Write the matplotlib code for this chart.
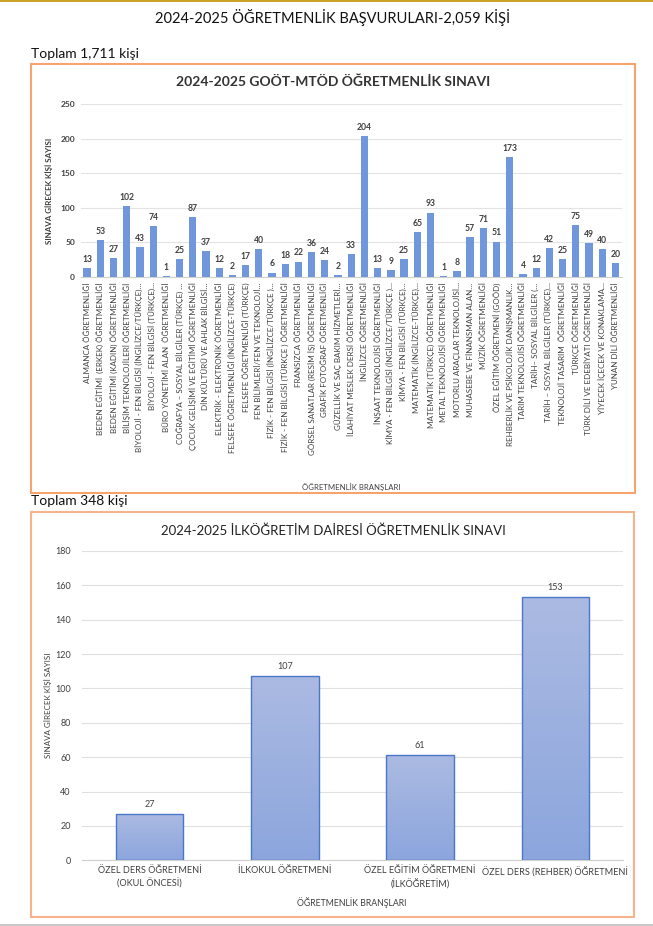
import numpy as np
import matplotlib
matplotlib.use('agg')
import matplotlib.pyplot as plt
from matplotlib.patches import Rectangle

plt.rcParams['font.family'] = ['Lato', 'DejaVu Sans']

# --- data ---
page_title = '2024-2025 ÖĞRETMENLİK BAŞVURULARI-2,059 KİŞİ'
top_total = 'Toplam 1,711 kişi'
top_title = '2024-2025 GOÖT-MTÖD ÖĞRETMENLİK SINAVI'
top_branches = [
    'ALMANCA ÖĞRETMENLİĞİ',
    'BEDEN EĞİTİMİ  (ERKEK) ÖĞRETMENLİĞİ',
    'BEDEN EĞİTİMİ (KADIN) ÖĞRETMENLİĞİ',
    'BİLİŞİM TEKNOLOJİLERİ ÖĞRETMENLİĞİ',
    'BİYOLOJİ - FEN BİLGİSİ (İNGİLİZCE/TÜRKÇE)…',
    'BİYOLOJİ - FEN BİLGİSİ (TÜRKÇE)…',
    'BÜRO YÖNETİMİ ALAN  ÖĞRETMENLİĞİ',
    'COĞRAFYA – SOSYAL BİLGİLER (TÜRKÇE) …',
    'ÇOCUK GELİŞİMİ VE EĞİTİMİ ÖĞRETMENLİĞİ',
    'DİN KÜLTÜRÜ VE AHLAK BİLGİSİ…',
    'ELEKTRİK - ELEKTRONİK ÖĞRETMENLİĞİ',
    'FELSEFE ÖĞRETMENLİĞİ (İNGİLİZCE-TÜRKÇE)',
    'FELSEFE ÖĞRETMENLİĞİ (TÜRKÇE)',
    'FEN BİLİMLERİ/FEN VE TEKNOLOJİ…',
    'FİZİK - FEN BİLGİSİ (İNGİLİZCE/TÜRKÇE )…',
    'FİZİK - FEN BİLGİSİ (TÜRKÇE ) ÖĞRETMENLİĞİ',
    'FRANSIZCA ÖĞRETMENLİĞİ',
    'GÖRSEL SANATLAR (RESİM İŞ) ÖĞRETMENLİĞİ',
    'GRAFİK FOTOĞRAF ÖĞRETMENLİĞİ',
    'GÜZELLİK VE SAÇ BAKIM HİZMETLERİ…',
    'İLAHİYAT MESLEK DERSİ ÖĞRETMENLİĞİ',
    'İNGİLİZCE ÖĞRETMENLİĞİ',
    'İNŞAAT TEKNOLOJİSİ ÖĞRETMENLİĞİ',
    'KİMYA - FEN BİLGİSİ (İNGİLİZCE/TÜRKÇE )…',
    'KİMYA - FEN BİLGİSİ (TÜRKÇE)…',
    'MATEMATİK (İNGİLİZCE-TÜRKÇE)…',
    'MATEMATİK (TÜRKÇE) ÖĞRETMENLİĞİ',
    'METAL TEKNOLOJİSİ ÖĞRETMENLİĞİ',
    'MOTORLU ARAÇLAR TEKNOLOJİSİ…',
    'MUHASEBE VE FİNANSMAN ALAN…',
    'MÜZİK ÖĞRETMENLİĞİ',
    'ÖZEL EĞİTİM ÖĞRETMENİ (GOÖD)',
    'REHBERLİK VE PSİKOLOJİK DANIŞMANLIK…',
    'TARIM TEKNOLOJİSİ ÖĞRETMENLİĞİ',
    'TARİH– SOSYAL BİLGİLER (…',
    'TARİH – SOSYAL BİLGİLER (TÜRKÇE)…',
    'TEKNOLOJİ TASARIM  ÖĞRETMENLİĞİ',
    'TÜRKÇE ÖĞRETMENLİĞİ',
    'TÜRK DİLİ VE EDEBİYATI ÖĞRETMENLİĞİ',
    'YİYECEK İÇECEK VE KONAKLAMA…',
    'YUNAN DİLİ ÖĞRETMENLİĞİ',
]
top_counts = [13, 53, 27, 102, 43, 74, 1, 25, 87, 37, 12, 2, 17, 40, 6, 18,
              22, 36, 24, 2, 33, 204, 13, 9, 25, 65, 93, 1, 8, 57, 71, 51,
              173, 4, 12, 42, 25, 75, 49, 40, 20]
top_yticks = [0, 50, 100, 150, 200, 250]

bottom_total = 'Toplam 348 kişi'
bottom_title = '2024-2025 İLKÖĞRETİM DAİRESİ ÖĞRETMENLİK SINAVI'
bottom_branches = ['ÖZEL DERS ÖĞRETMENİ\n(OKUL ÖNCESİ)', 'İLKOKUL ÖĞRETMENİ',
                   'ÖZEL EĞİTİM ÖĞRETMENİ\n(İLKÖĞRETİM)',
                   'ÖZEL DERS (REHBER) ÖĞRETMENİ']
bottom_counts = [27, 107, 61, 153]
bottom_yticks = [0, 20, 40, 60, 80, 100, 120, 140, 160, 180]

ylabel = 'SINAVA GİRECEK KİŞİ SAYISI'
xlabel = 'ÖĞRETMENLİK BRANŞLARI'

W, H = 653, 926
fig = plt.figure(figsize=(W / 100, H / 100), dpi=100)


def px_axes(x0, y0, x1, y1, **kw):
    # pixel box (top-left origin) -> figure axes
    return fig.add_axes([x0 / W, 1 - y1 / H, (x1 - x0) / W, (y1 - y0) / H], **kw)


# page background layer for frames and free text
bg = px_axes(0, 0, W, H)
bg.set_xlim(0, W)
bg.set_ylim(H, 0)
bg.axis('off')
bg.add_patch(Rectangle((0, 0), W, 1.5, color='#C9A227', lw=0))
bg.add_patch(Rectangle((0, H - 2), W, 2, color='#C8C8C8', lw=0))
bg.add_patch(Rectangle((30.5, 64), 604, 429, fill=False, ec='#F4A46C', lw=1.5))
bg.add_patch(Rectangle((31, 512), 603, 405, fill=False, ec='#F7B48C', lw=1.5))
bg.text(333, 17, page_title, ha='center', va='center', fontsize=10.5, color='#111111')
bg.text(31, 54, top_total, ha='left', va='center', fontsize=10, color='#111111')
bg.text(31, 501, bottom_total, ha='left', va='center', fontsize=10, color='#111111')
bg.text(333, 82, top_title, ha='center', va='center', fontsize=10, fontweight='bold', color='#333333')
bg.text(333, 531, bottom_title, ha='center', va='center', fontsize=9.5, color='#222222')

# --- top chart ---
ax1 = px_axes(80.5, 104.3, 622, 276.7)
x1 = np.arange(len(top_counts))
ax1.bar(x1, top_counts, width=0.55, color='#7097DB', zorder=3)
for xi, v in zip(x1, top_counts):
    ax1.text(xi, v + 6, str(v), ha='center', va='bottom', fontsize=6.2,
             fontweight='bold', color='#404040')
ax1.set_xlim(-0.5, len(top_counts) - 0.5)
ax1.set_ylim(0, 250)
ax1.set_yticks(top_yticks)
ax1.set_yticklabels([str(t) for t in top_yticks], fontsize=6, fontweight='bold', color='#404040')
ax1.set_xticks(x1)
ax1.set_xticklabels(top_branches, rotation=90, fontsize=5.8, color='#404040')
ax1.tick_params(axis='both', length=0, pad=4)
ax1.yaxis.grid(True, color='#E3E3E3', lw=0.8, zorder=0)
for s in ['top', 'right', 'left']:
    ax1.spines[s].set_visible(False)
ax1.spines['bottom'].set_color('#D0D0D0')
ax1.set_ylabel(ylabel, fontsize=5.8, fontweight='bold', color='#404040', labelpad=5)
bg.text(351, 487, xlabel, ha='center', va='center', fontsize=5.6, color='#404040')

# --- bottom chart ---
ax2 = px_axes(82, 551, 623, 860.3)
x2 = np.arange(len(bottom_counts))
bars = ax2.bar(x2, bottom_counts, width=0.5, color='none', edgecolor='#4A77C8', lw=1, zorder=4)
grad = np.linspace(0, 1, 100).reshape(-1, 1)
cmap = matplotlib.colors.LinearSegmentedColormap.from_list('g', ['#8CA6DD', '#ABBAE2'])
for b in bars:
    im = ax2.imshow(grad, extent=(b.get_x(), b.get_x() + b.get_width(), 0, b.get_height()),
                    origin='lower', cmap=cmap, aspect='auto', zorder=3)
    im.set_clip_path(b)
for xi, v in zip(x2, bottom_counts):
    ax2.text(xi, v + 3, str(v), ha='center', va='bottom', fontsize=6.5, color='#404040')
ax2.set_xlim(-0.5, len(bottom_counts) - 0.5)
ax2.set_ylim(0, 180)
ax2.set_yticks(bottom_yticks)
ax2.set_yticklabels([str(t) for t in bottom_yticks], fontsize=6.5, color='#404040')
ax2.set_xticks(x2)
ax2.set_xticklabels(bottom_branches, fontsize=6.6, color='#404040', linespacing=1.45)
ax2.tick_params(axis='x', length=0, pad=4)
ax2.tick_params(axis='y', length=0, pad=8)
ax2.yaxis.grid(True, color='#E0E0E0', lw=0.8, zorder=0)
for s in ['top', 'right', 'left']:
    ax2.spines[s].set_visible(False)
ax2.spines['bottom'].set_color('#D0D0D0')
ax2.set_ylabel(ylabel, fontsize=5.8, color='#404040', labelpad=2)
bg.text(352, 902, xlabel, ha='center', va='center', fontsize=6.3, color='#404040')

fig.savefig('out.png', dpi=100)
